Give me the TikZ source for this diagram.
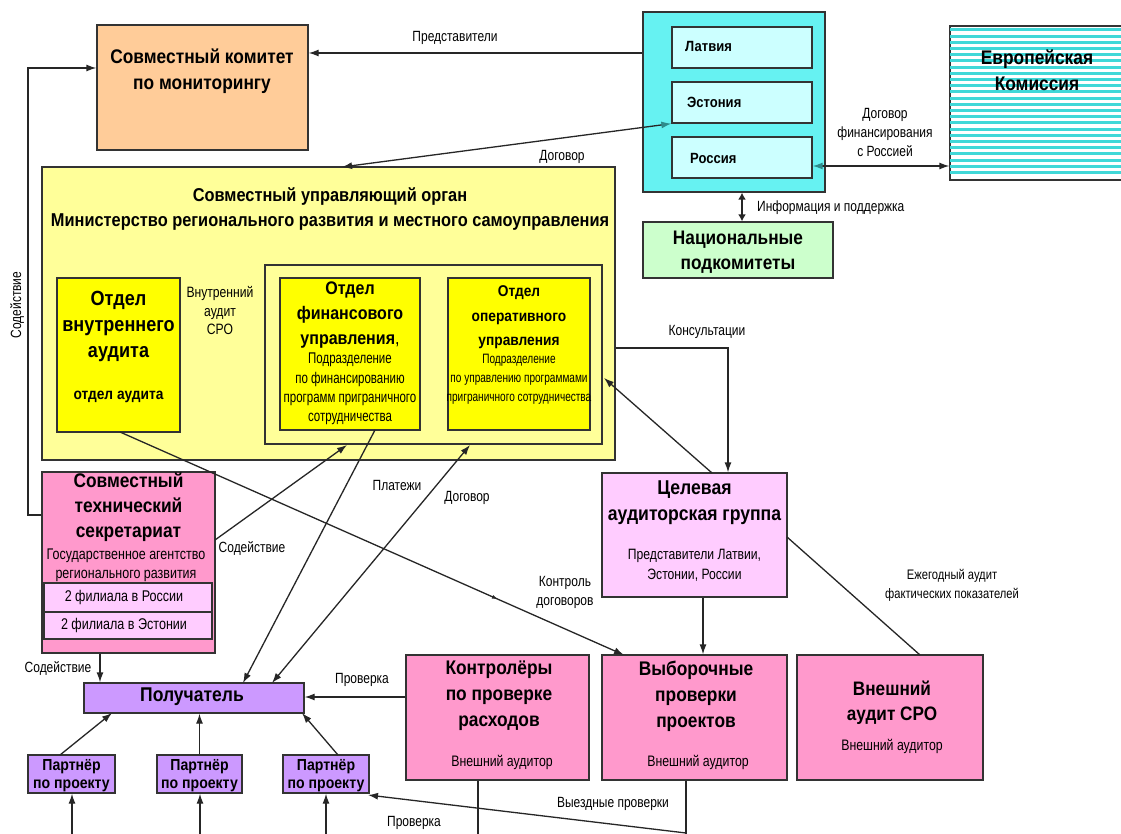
\documentclass[tikz,border=0pt]{standalone}
\usepackage{fontspec}
\setmainfont{Liberation Sans}
\newfontfamily\hf{Liberation Sans}[FakeStretch=0.88]
\newfontfamily\nf{Liberation Sans}[FakeStretch=0.81]
\newfontfamily\nnf{Liberation Sans}[FakeStretch=0.74]
\usetikzlibrary{arrows.meta,decorations.markings}
\definecolor{orangebox}{HTML}{FFCC99}
\definecolor{cyanout}{HTML}{66F2F2}
\definecolor{cyanin}{HTML}{CCFFFF}
\definecolor{hatch}{HTML}{40D8D8}
\definecolor{greenbox}{HTML}{CCFFCC}
\definecolor{yellowbig}{HTML}{FFFF99}
\definecolor{yellowin}{HTML}{FFFF00}
\definecolor{lilac}{HTML}{FFCCFF}
\definecolor{pinkbox}{HTML}{FF99CC}
\definecolor{purplebox}{HTML}{CC99FF}
\definecolor{tealhead}{HTML}{2E8B8B}
\begin{document}
\begin{tikzpicture}[x=1pt,y=-1pt,
  bx/.style={draw=black!80, line width=1.3pt, inner sep=0pt},
  hb/.style={font=\hf\bfseries\fontsize{19.7}{26}\selectfont, align=center, inner sep=0pt},
  mb/.style={font=\hf\bfseries\fontsize{14.8}{18}\selectfont, align=center, inner sep=0pt},
  lb/.style={font=\nf\fontsize{14.8}{19}\selectfont, align=center, inner sep=0pt},
  sb/.style={font=\nnf\fontsize{15.5}{19.3}\selectfont, align=center, inner sep=0pt},
  cn/.style={line width=1.3pt, draw=black!85, -{Latex[length=10pt,width=7pt]}},
  cnb/.style={line width=1.3pt, draw=black!85, {Latex[length=10pt,width=7pt]}-{Latex[length=10pt,width=7pt]}},
  ln/.style={line width=1.3pt, draw=black!85},
  midtip/.style={postaction={decorate}, decoration={markings, mark=at position 0.75 with {\arrow{Latex[length=6pt,width=4pt]}}}}]
\useasboundingbox (0,0) rectangle (1121,834);
\clip (0,0) rectangle (1121,834);
\fill[white] (0,0) rectangle (1121,834);

% ---------- boxes ----------
\node[bx, fill=orangebox, minimum width=211, minimum height=125] (mon) at (202.5,87.5) {};
\node[hb] (monT) at (202,71) {Совместный комитет\\по мониторингу};

\node[bx, fill=cyanout, minimum width=182, minimum height=180] (cty) at (734,102) {};
\node[bx, fill=cyanin, minimum width=140, minimum height=41] (lat) at (742,47.5) {};
\node[bx, fill=cyanin, minimum width=140, minimum height=41] (est) at (742,102.5) {};
\node[bx, fill=cyanin, minimum width=140, minimum height=41] (rus) at (742,157.5) {};
\node[mb, anchor=west] (latT) at (685,46) {Латвия};
\node[mb, anchor=west] (estT) at (687,102) {Эстония};
\node[mb, anchor=west] (rusT) at (690,158) {Россия};

\node[bx, fill=white, minimum width=180, minimum height=154] (eu) at (1040,103) {};
\begin{scope}
  \clip (eu.south west) rectangle (eu.north east);
  \foreach \yy in {30,36.2,...,178} \draw[hatch, line width=3pt] (940,\yy) -- (1130,\yy);
\end{scope}
\draw[draw=black!80, line width=1.3pt] (eu.south west) rectangle (eu.north east);
\node[hb] (euT) at (1037,70) {Европейская\\Комиссия};

\node[bx, fill=greenbox, minimum width=190, minimum height=56] (nat) at (738,250) {};
\node[hb, font=\hf\bfseries\fontsize{19.6}{25}\selectfont] (natT) at (738,252) {Национальные\\подкомитеты};

\node[bx, fill=yellowbig, minimum width=573, minimum height=293] (yel) at (328.5,313.5) {};
\node[hb, font=\hf\bfseries\fontsize{18.6}{25}\selectfont] (yelT) at (330,209) {Совместный управляющий орган\\Министерство регионального развития и местного самоуправления};

\node[bx, fill=yellowin, minimum width=123, minimum height=154] (ia) at (118.5,355) {};
\node[hb, font=\hf\bfseries\fontsize{20.5}{26}\selectfont] (iaT) at (118.5,326) {Отдел\\внутреннего\\аудита};
\node[mb, font=\hf\bfseries\fontsize{15.6}{18}\selectfont] (iaS) at (118.5,397) {отдел аудита};

\node[bx, fill=yellowbig, minimum width=337, minimum height=179] (frm) at (433.5,354.5) {};
\node[bx, fill=yellowin, minimum width=140, minimum height=152] (fin) at (350,354) {};
\node[hb, font=\hf\bfseries\fontsize{18.2}{25}\selectfont] (finT) at (350,315) {Отдел\\финансового\\управления\mdseries,};
\node[sb] (finS) at (350,389) {Подразделение\\по финансированию\\программ приграничного\\сотрудничества};
\node[bx, fill=yellowin, minimum width=142, minimum height=152] (op) at (519,354) {};
\node[hb, font=\hf\bfseries\fontsize{15.6}{24.5}\selectfont] (opT) at (519,317.5) {Отдел\\оперативного\\управления};
\node[sb, font=\nnf\fontsize{13.6}{19}\selectfont] (opS) at (519,379) {Подразделение\\по управлению программами\\приграничного сотрудничества};

\node[bx, fill=lilac, minimum width=185, minimum height=124] (tag) at (694.5,535) {};
\node[hb, font=\hf\bfseries\fontsize{20}{26}\selectfont] (tagT) at (694.5,503) {Целевая\\аудиторская группа};
\node[lb, font=\nf\fontsize{15}{20}\selectfont] (tagS) at (694.5,565) {Представители Латвии,\\Эстонии, России};

\node[bx, fill=pinkbox, minimum width=173, minimum height=181] (sts) at (128.5,562.5) {};
\node[hb, font=\hf\bfseries\fontsize{19.7}{25}\selectfont] (stsT) at (128.5,507) {Совместный\\технический\\секретариат};
\node[lb, font=\nf\fontsize{15.4}{19}\selectfont] (stsS) at (126,565.5) {Государственное агентство\\регионального развития};
\node[bx, fill=lilac, minimum width=168, minimum height=29] (br1) at (128,597.5) {};
\node[lb, font=\nf\fontsize{15.5}{19}\selectfont] (br1T) at (124,597.5) {2 филиала в России};
\node[bx, fill=lilac, minimum width=168, minimum height=27] (br2) at (128,625.5) {};
\node[lb, font=\nf\fontsize{15.5}{19}\selectfont] (br2T) at (124,625.5) {2 филиала в Эстонии};

\node[bx, fill=purplebox, minimum width=220, minimum height=30] (rec) at (194,698) {};
\node[hb, font=\hf\bfseries\fontsize{19.9}{22}\selectfont] (recT) at (192,697) {Получатель};

\node[bx, fill=pinkbox, minimum width=183, minimum height=125] (ctrl) at (497.5,717.5) {};
\node[hb] (ctrlT) at (499,696) {Контролёры\\по проверке\\расходов};
\node[lb, font=\nf\fontsize{15.2}{19}\selectfont] (ctrlS) at (502,762) {Внешний аудитор};
\node[bx, fill=pinkbox, minimum width=185, minimum height=125] (samp) at (694.5,717.5) {};
\node[hb] (sampT) at (696,696) {Выборочные\\проверки\\проектов};
\node[lb, font=\nf\fontsize{15.2}{19}\selectfont] (sampS) at (698,762) {Внешний аудитор};
\node[bx, fill=pinkbox, minimum width=186, minimum height=125] (ext) at (890,717.5) {};
\node[hb, font=\hf\bfseries\fontsize{19.5}{25}\selectfont] (extT) at (892,702.5) {Внешний\\аудит СРО};
\node[lb, font=\nf\fontsize{15.2}{19}\selectfont] (extS) at (892,746) {Внешний аудитор};

\node[bx, fill=purplebox, minimum width=87, minimum height=38] (p1) at (71.5,774) {};
\node[bx, fill=purplebox, minimum width=85, minimum height=38] (p2) at (199.5,774) {};
\node[bx, fill=purplebox, minimum width=86, minimum height=38] (p3) at (326,774) {};
\node[mb, font=\hf\bfseries\fontsize{16}{18}\selectfont] (p1T) at (71.5,776) {Партнёр\\по проекту};
\node[mb, font=\hf\bfseries\fontsize{16}{18}\selectfont] (p2T) at (199.5,776) {Партнёр\\по проекту};
\node[mb, font=\hf\bfseries\fontsize{16}{18}\selectfont] (p3T) at (326,776) {Партнёр\\по проекту};

% ---------- helper coordinates ----------
\coordinate (yRep) at (0,53);
\coordinate (yCont) at (0,348);
\coordinate (xCont) at (728,0);
\coordinate (ySod) at (0,515);
\coordinate (ySodTop) at (0,68);
\coordinate (xSod) at (28,0);
\coordinate (dogTop) at (342,167);
\coordinate (yEU) at (0,166);
\coordinate (xNat) at (742,0);
\coordinate (tagA) at (712,473);
\coordinate (opA) at (604,378);
\coordinate (tagR) at (787,537);
\coordinate (extA) at (920,655);
\coordinate (iaA) at (120,432);
\coordinate (sampA) at (624,655);
\coordinate (xTS) at (703,0);
\coordinate (xStsR) at (100,0);
\coordinate (stsR) at (215,540);
\coordinate (frmA) at (347,445);
\coordinate (finA) at (375,430);
\coordinate (recA) at (243,683);
\coordinate (recB) at (272,683);
\coordinate (frmB) at (470,445);
\coordinate (yCtrl) at (0,697);
\coordinate (b1) at (72,840);
\coordinate (b2) at (200,840);
\coordinate (b3) at (326,840);
\coordinate (b4) at (478,840);
\coordinate (b5) at (686,840);
\coordinate (vyA) at (686,833);
\coordinate (p3A) at (368,795);
\coordinate (r1) at (112,713);
\coordinate (r3) at (302,713);
\coordinate (p1A) at (60,755);
\coordinate (p3B) at (338,755);

% ---------- connectors ----------
\draw[cn] (cty.west |- yRep) -- (mon.east |- yRep);
\draw[line width=1.3pt, draw=black!85, {Latex[length=10pt,width=7pt]}-{Latex[length=10pt,width=7pt,color=tealhead]}] (dogTop) -- (est.south west);
\draw[line width=1.3pt, draw=black!85, {Latex[length=10pt,width=7pt,color=tealhead]}-{Latex[length=10pt,width=7pt]}] (rus.east |- yEU) -- (eu.west |- yEU);
\draw[line width=2.2pt, draw=black!85, {Latex[length=7pt,width=8pt]}-{Latex[length=7pt,width=8pt]}] (cty.south -| xNat) -- (nat.north -| xNat);
\draw[cn] (yel.east |- yCont) -| (tag.north -| xCont);
\draw[cn] (tagA) -- (opA);
\draw[ln] (tagR) -- (extA);
\draw[cn] (tag.south -| xTS) -- (samp.north -| xTS);
\draw[cn, midtip] (iaA) -- (sampA);
\draw[cn] (sts.west |- ySod) -- (xSod |- ySod) -- (xSod |- ySodTop) -- (mon.west |- ySodTop);
\draw[cn] (sts.south -| xStsR) -- (rec.north -| xStsR);
\draw[cn] (stsR) -- (frmA);
\draw[cn] (finA) -- (recA);
\draw[cnb] (recB) -- (frmB);
\draw[cn] (ctrl.west |- yCtrl) -- (rec.east |- yCtrl);
\draw[cn] (p1A) -- (r1);
\draw[cn] (p2.north) -- (rec.south -| p2.north);
\draw[cn] (p3B) -- (r3);
\draw[cn] (b1) -- (p1.south -| b1);
\draw[cn] (b2) -- (p2.south -| b2);
\draw[cn] (b3) -- (p3.south -| b3);
\draw[ln] (ctrl.south -| b4) -- (b4);
\draw[ln] (samp.south -| b5) -- (b5);
\draw[cn] (vyA) -- (p3A);

% ---------- labels ----------
\node[lb] (lRep) at (455,38) {Представители};
\node[lb] (lDog) at (562,157) {Договор};
\node[lb] (lFin) at (885,132) {Договор\\финансирования\\с Россией};
\node[lb, anchor=west] (lInf) at (757,208) {Информация и поддержка};
\node[lb, font=\nf\fontsize{15}{18.5}\selectfont] (lVn) at (220,311) {Внутренний\\аудит\\СРО};
\node[lb] (lKon) at (707,332) {Консультации};
\node[lb] (lPl) at (397,485) {Платежи};
\node[lb] (lDog2) at (467,498) {Договор};
\node[lb] (lSod1) at (252,548) {Содействие};
\node[lb] (lKontr) at (565,592) {Контроль\\договоров};
\node[lb, font=\nf\fontsize{13.8}{19}\selectfont] (lEzh) at (952,585) {Ежегодный аудит\\фактических показателей};
\node[lb] (lSod2) at (58,668) {Содействие};
\node[lb] (lPr1) at (362,680) {Проверка};
\node[lb] (lVy) at (613,804) {Выездные проверки};
\node[lb] (lPr2) at (414,823) {Проверка};
\node[lb, rotate=90] (lSod3) at (17,305) {Содействие};
\end{tikzpicture}
\end{document}
